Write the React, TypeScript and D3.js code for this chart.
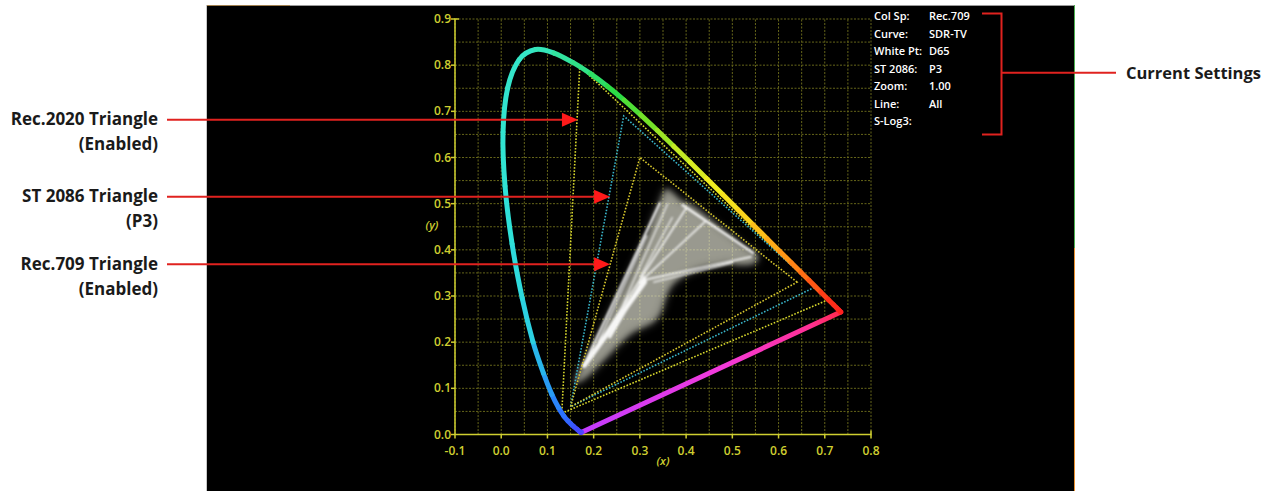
import React from "react";
import * as d3 from "d3";

const W = 1278;
const H = 491;

// CIE 1931 spectral locus (wavelength nm, x, y)
const locusNm = [380, 400, 420, 430, 440, 450, 455, 460, 465, 470, 475, 480, 485, 490, 495, 500, 505, 510, 515, 520, 525, 530, 535, 540, 545, 550, 555, 560, 565, 570, 575, 580, 585, 590, 595, 600, 605, 610, 620, 630, 640, 650, 660, 680, 700];
const locusX = [0.1741, 0.1733, 0.1714, 0.1689, 0.1644, 0.1566, 0.151, 0.144, 0.1355, 0.1241, 0.1096, 0.0913, 0.0687, 0.0454, 0.0235, 0.0082, 0.0039, 0.0139, 0.0389, 0.0743, 0.1142, 0.1547, 0.1929, 0.2296, 0.2658, 0.3016, 0.3373, 0.3731, 0.4087, 0.4441, 0.4788, 0.5125, 0.5448, 0.5752, 0.6029, 0.627, 0.6482, 0.6658, 0.6915, 0.7079, 0.719, 0.726, 0.73, 0.7334, 0.7347];
const locusY = [0.005, 0.0048, 0.0051, 0.0069, 0.0109, 0.0177, 0.0227, 0.0297, 0.0399, 0.0578, 0.0868, 0.1327, 0.2007, 0.295, 0.4127, 0.5384, 0.6548, 0.7502, 0.812, 0.8338, 0.8262, 0.8059, 0.7816, 0.7543, 0.7243, 0.6923, 0.6589, 0.6245, 0.5896, 0.5547, 0.5202, 0.4866, 0.4544, 0.4242, 0.3965, 0.3725, 0.3514, 0.334, 0.3083, 0.292, 0.2809, 0.274, 0.27, 0.2666, 0.2653];

// Gamut triangles (R, G, B primaries)
const rec2020X = [0.708, 0.17, 0.131];
const rec2020Y = [0.292, 0.797, 0.046];
const p3X = [0.68, 0.265, 0.15];
const p3Y = [0.32, 0.69, 0.06];
const rec709X = [0.64, 0.3, 0.15];
const rec709Y = [0.33, 0.6, 0.06];

const cloudX = [0.16, 0.19, 0.221, 0.25, 0.272, 0.295, 0.315, 0.33, 0.343, 0.352, 0.358, 0.372, 0.387, 0.408, 0.44, 0.472, 0.5, 0.522, 0.545, 0.556, 0.548, 0.52, 0.494, 0.465, 0.437, 0.405, 0.38, 0.365, 0.355, 0.345, 0.33, 0.305, 0.285, 0.257, 0.235, 0.21, 0.185];
const cloudY = [0.111, 0.175, 0.233, 0.29, 0.334, 0.385, 0.428, 0.47, 0.501, 0.525, 0.532, 0.522, 0.507, 0.498, 0.475, 0.449, 0.428, 0.41, 0.395, 0.386, 0.372, 0.368, 0.371, 0.366, 0.362, 0.35, 0.334, 0.318, 0.295, 0.265, 0.245, 0.232, 0.222, 0.198, 0.175, 0.15, 0.125];

// Bright streaks inside the cloud
const streakX1 = [0.177, 0.18, 0.2, 0.235, 0.392, 0.31, 0.3, 0.21, 0.33, 0.25, 0.3];
const streakY1 = [0.146, 0.15, 0.18, 0.211, 0.497, 0.335, 0.33, 0.2, 0.33, 0.25, 0.34];
const streakX2 = [0.343, 0.31, 0.4, 0.31, 0.545, 0.54, 0.44, 0.315, 0.5, 0.36, 0.37];
const streakY2 = [0.501, 0.33, 0.49, 0.34, 0.393, 0.385, 0.46, 0.43, 0.372, 0.5, 0.47];
const streakW = [2.2, 5, 1.6, 3, 2.4, 1.8, 1.5, 1.4, 1.4, 1.2, 1.2];

const xTicks = [-0.1, 0.0, 0.1, 0.2, 0.3, 0.4, 0.5, 0.6, 0.7, 0.8];
const yTicks = [0.0, 0.1, 0.2, 0.3, 0.4, 0.5, 0.6, 0.7, 0.8, 0.9];

const settingsLabels = ["Col Sp:", "Curve:", "White Pt:", "ST 2086:", "Zoom:", "Line:", "S-Log3:"];
const settingsValues = ["Rec.709", "SDR-TV", "D65", "P3", "1.00", "All", ""];

const annotLine1 = ["Rec.2020 Triangle", "ST 2086 Triangle", "Rec.709 Triangle"];
const annotLine2 = ["(Enabled)", "(P3)", "(Enabled)"];
const annotTipX = [0.166, 0.2355, 0.2355];
const annotTipY = [0.682, 0.515, 0.369];

const locusStopNm = [380, 450, 470, 480, 488, 500, 520, 532, 542, 552, 562, 572, 582, 595, 610, 630, 700];
const locusStopCol = ["#7040ff", "#3d4cff", "#2a78ff", "#28a8f0", "#2cd4e0", "#30e4d4", "#36e6c4", "#30e28a", "#28dc48", "#70e228", "#c0ea24", "#eeee20", "#fbd61c", "#ffa016", "#ff6414", "#ff3018", "#ff2020"];

export default function App() {
  const x = d3.scaleLinear().domain([-0.1, 0.8]).range([455, 871]);
  const y = d3.scaleLinear().domain([0, 0.9]).range([434.5, 19]);
  const col = d3.scaleLinear<string>().domain(locusStopNm).range(locusStopCol).interpolate(d3.interpolateRgb);
  const gridX = d3.range(0, 19).map((i) => -0.1 + i * 0.05);
  const gridY = d3.range(0, 19).map((i) => i * 0.05);
  const line = d3.line<[number, number]>().x((d) => x(d[0])).y((d) => y(d[1]));
  const tri = (xs: number[], ys: number[]) => line(xs.map((v, i) => [v, ys[i]]) as [number, number][]) + "Z";
  const cloudPts = cloudX.map((v, i) => [v, cloudY[i]] as [number, number]);
  const cloudPath = d3.line<[number, number]>().x((d) => x(d[0])).y((d) => y(d[1])).curve(d3.curveCatmullRomClosed)(cloudPts) || "";

  const n = locusNm.length;
  const px = locusX.map((v) => x(v));
  const py = locusY.map((v) => y(v));
  // smooth per-segment paths (Catmull-Rom -> cubic Bezier)
  const seg = (i: number) => {
    const i0 = Math.max(0, i - 1);
    const i3 = Math.min(n - 1, i + 2);
    const c1x = px[i] + (px[i + 1] - px[i0]) / 6;
    const c1y = py[i] + (py[i + 1] - py[i0]) / 6;
    const c2x = px[i + 1] - (px[i3] - px[i]) / 6;
    const c2y = py[i + 1] - (py[i3] - py[i]) / 6;
    return `M${px[i]},${py[i]}C${c1x},${c1y},${c2x},${c2y},${px[i + 1]},${py[i + 1]}`;
  };
  const red = [locusX[n - 1], locusY[n - 1]];
  const vio = [locusX[0], locusY[0]];
  const font = "'Open Sans', sans-serif";
  const yellow = "#cfcf30";
  const redLine = "#e0221f";

  return (
    <svg width={W} height={H} style={{ position: "absolute", left: 0, top: 0, background: "#fff" }}>
      <defs>
        <filter id="blurHaze" x="-30%" y="-30%" width="160%" height="160%">
          <feGaussianBlur stdDeviation="5" />
        </filter>
        <filter id="blurBig" x="-20%" y="-20%" width="140%" height="140%">
          <feGaussianBlur stdDeviation="2.5" />
        </filter>
        <filter id="blurSmall" x="-20%" y="-20%" width="140%" height="140%">
          <feGaussianBlur stdDeviation="0.9" />
        </filter>
        <linearGradient id="purple" gradientUnits="userSpaceOnUse" x1={x(red[0])} y1={y(red[1])} x2={x(vio[0])} y2={y(vio[1])}>
          <stop offset="0" stopColor="#ff2a4a" />
          <stop offset="0.12" stopColor="#ff3094" />
          <stop offset="0.45" stopColor="#f43ada" />
          <stop offset="1" stopColor="#c23cff" />
        </linearGradient>
      </defs>
      {/* black panel */}
      <rect x={206} y={5} width={869} height={486} fill="#000" />
      <line x1={206} x2={1075} y1={5.5} y2={5.5} stroke="#9a9a9a" strokeWidth={1} />
      <line x1={206} x2={290} y1={5.5} y2={5.5} stroke="#a08050" strokeWidth={1} />
      <line x1={206.5} x2={206.5} y1={5} y2={491} stroke="#c8c8c8" strokeWidth={1} />
      <line x1={1074.5} x2={1074.5} y1={5} y2={248} stroke="#4cb050" strokeWidth={1} />
      <line x1={1074.5} x2={1074.5} y1={248} y2={491} stroke="#e89030" strokeWidth={1} />

      {/* grid */}
      <g stroke="#66661a" strokeWidth={1} strokeDasharray="2 1.5">
        {gridX.map((g, i) => (
          <line key={"gx" + i} x1={x(g)} x2={x(g)} y1={y(0)} y2={y(0.9)} />
        ))}
        {gridY.map((g, i) => (
          <line key={"gy" + i} x1={x(-0.1)} x2={x(0.8)} y1={y(g)} y2={y(g)} />
        ))}
      </g>

      {/* axes */}
      <g stroke={yellow} strokeWidth={1.5} fill="none">
        <path d={`M${x(-0.1) + 4},${y(0.9)}H${x(-0.1)}V${y(0)}H${x(0.8)}V${y(0) - 4}`} />
        {xTicks.map((t, i) => (
          <line key={"xt" + i} x1={x(t)} x2={x(t)} y1={y(0)} y2={y(0) + 4} />
        ))}
        {yTicks.map((t, i) => (
          <line key={"yt" + i} x1={x(-0.1) - 4} x2={x(-0.1)} y1={y(t)} y2={y(t)} />
        ))}
      </g>
      <g fill={yellow} fontFamily={font} fontSize={12} fontWeight={600}>
        {xTicks.map((t, i) => (
          <text key={"xl" + i} x={x(t)} y={y(0) + 20.5} textAnchor="middle">
            {d3.format(".1f")(t).replace("−", "-")}
          </text>
        ))}
        {yTicks.map((t, i) => (
          <text key={"yl" + i} x={x(-0.1) - 4} y={y(t) + 4} textAnchor="end">
            {d3.format(".1f")(t)}
          </text>
        ))}
        <text x={432} y={229} textAnchor="middle" fontStyle="italic" fontSize={11.5}>(y)</text>
        <text x={663} y={465} textAnchor="middle" fontStyle="italic" fontSize={11.5}>(x)</text>
      </g>

      {/* cloud */}
      <g>
        <path d={cloudPath} fill="#e0e0d0" opacity={0.45} filter="url(#blurHaze)" />
        <path d={cloudPath} fill="#e8e8d8" opacity={0.4} filter="url(#blurBig)" />
        <g stroke="#ffffff" strokeLinecap="round" filter="url(#blurSmall)" opacity={0.92}>
          {streakX1.map((v, i) => (
            <line key={"s" + i} x1={x(v)} y1={y(streakY1[i])} x2={x(streakX2[i])} y2={y(streakY2[i])} strokeWidth={streakW[i]} />
          ))}
        </g>
      </g>

      {/* triangles */}
      <g fill="none" strokeWidth={1.6} strokeDasharray="1.6 1.6">
        <path d={tri(rec2020X, rec2020Y)} stroke="#d8d82c" />
        <path d={tri(p3X, p3Y)} stroke="#38b4c8" />
        <path d={tri(rec709X, rec709Y)} stroke="#d6c62c" />
      </g>

      {/* spectral locus */}
      <g fill="none" strokeWidth={5} strokeLinecap="round">
        <line x1={x(red[0])} y1={y(red[1])} x2={x(vio[0])} y2={y(vio[1])} stroke="url(#purple)" />
        {locusNm.slice(0, n - 1).map((nm, i) => (
          <path key={"l" + i} d={seg(i)} stroke={col((nm + locusNm[i + 1]) / 2)} />
        ))}
      </g>

      {/* settings */}
      <g fill="#ffffff" fontFamily={font} fontSize={11} fontWeight={600}>
        {settingsLabels.map((s, i) => (
          <g key={"st" + i}>
            <text x={874} y={20 + i * 17.5}>{s}</text>
            <text x={929} y={20 + i * 17.5}>{settingsValues[i]}</text>
          </g>
        ))}
      </g>
      <g stroke={redLine} strokeWidth={2} fill="none">
        <path d="M982,13.5H1001.5V134.5H982" />
        <line x1={1001.5} x2={1116} y1={72.7} y2={72.7} />
      </g>
      <text x={1126} y={78.5} fontFamily={font} fontSize={16.5} fontWeight={700} fill="#1a1a1a">Current Settings</text>

      {/* annotations */}
      {annotLine1.map((t, i) => {
        const tx = x(annotTipX[i]);
        const ty = y(annotTipY[i]);
        return (
          <g key={"a" + i}>
            <line x1={167} x2={tx - 14} y1={ty} y2={ty} stroke={redLine} strokeWidth={2} />
            <path d={`M${tx},${ty}L${tx - 16},${ty - 7}L${tx - 16},${ty + 7}Z`} fill="#ff1a1a" />
            <text x={158} y={ty + 5.5} textAnchor="end" fontFamily={font} fontSize={17} fontWeight={700} fill="#1a1a1a">{t}</text>
            <text x={158} y={ty + 30.5} textAnchor="end" fontFamily={font} fontSize={17} fontWeight={700} fill="#1a1a1a">{annotLine2[i]}</text>
          </g>
        );
      })}
    </svg>
  );
}
